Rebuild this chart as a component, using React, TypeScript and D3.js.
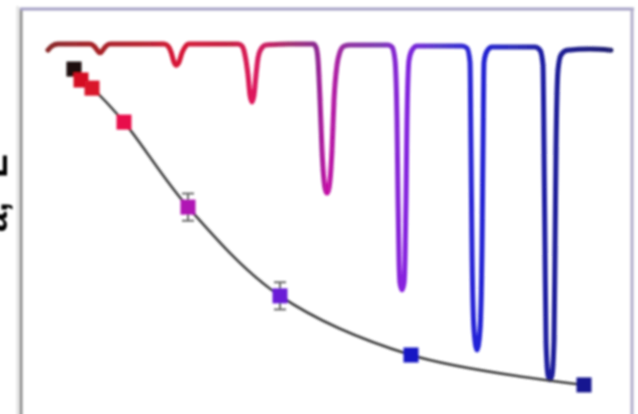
import React from "react";
import * as d3 from "d3";

const W = 638;
const H = 414;

// spectra, one dip each: [shift, transmission %]
const dip1 = [[-2, 98.2], [2, 99.4], [8, 100], [40, 100], [44, 99.4], [48, 97.9], [50, 97.4], [52, 97.9], [56, 99.4], [60, 100], [88, 100]];
const dip2 = [[114, 100], [118, 99.4], [121, 97.7], [124, 94.7], [126, 93.8], [129, 94.7], [132, 97.4], [135, 99.1], [139, 100], [164, 100]];
const dip3 = [[188, 100], [192, 99.4], [195, 96.8], [198, 90.9], [200, 85.0], [202, 83.0], [204, 85.0], [206, 90.9], [208, 95.9], [211, 98.5], [216, 99.7], [240, 100]];
const dip4 = [[263, 100], [266, 99.1], [268, 95.3], [270, 83.6], [272, 68.9], [275, 57.8], [277, 56.3], [279, 57.8], [282, 68.9], [284, 83.6], [287, 93.8], [290, 97.7], [294, 99.4], [300, 99.7], [315, 99.7]];
const dip5 = [[338, 99.7], [342, 99.1], [345, 95.3], [347, 77.7], [348, 54.3], [349, 36.7], [350, 29.9], [352, 27.9], [354, 29.9], [355, 36.7], [356, 54.3], [357, 77.7], [359, 95.3], [362, 98.2], [367, 99.4], [390, 99.4]];
const dip6 = [[412, 99.4], [417, 98.8], [420, 94.7], [421, 68.9], [422, 39.6], [424, 16.1], [427, 10.3], [430, 16.1], [432, 39.6], [433, 68.9], [434, 94.7], [437, 97.9], [442, 99.1], [463, 99.1]];
const dip7 = [[485, 99.1], [490, 98.2], [493, 93.8], [494, 68.9], [495, 39.6], [496, 13.2], [498, 2.9], [500, 1.5], [502, 2.9], [504, 13.2], [505, 39.6], [506, 68.9], [508, 92.4], [511, 96.8], [517, 98.2], [540, 98.5], [561, 98.2]];

// dip depth vs. step
const pointX = [24, 31, 42, 74, 138, 230, 361, 534];
const pointY = [0.988, 0.956, 0.932, 0.832, 0.582, 0.321, 0.147, 0.059];
const pointErr = [0, 0, 0, 0.008, 0.04, 0.04, 0.008, 0.006];

// cut-off axis label at the left edge
const labelParts = ["a,", "E"];

const pointColors = ["#1a0808", "#d40f22", "#d9122c", "#e8104c", "#b012b4", "#6a1fd6", "#1212c4", "#121290"];
const traceStops: [number, string][] = [
  [-2, "#8a2a2a"], [50, "#a82028"], [100, "#b82030"], [126, "#d81838"], [180, "#c02040"],
  [202, "#e0185c"], [240, "#a03070"], [266, "#8a2a90"], [277, "#c810a8"], [295, "#9030a0"],
  [330, "#7a38b0"], [352, "#8a20e0"], [390, "#5038c8"], [427, "#2222d8"], [465, "#2a2ab8"],
  [500, "#1a1a9c"], [561, "#202070"],
];

const x = d3.scaleLinear().domain([0, 560]).range([50, 610]);
const yT = d3.scaleLinear().domain([0, 100]).range([385, 44]);
const yN = d3.scaleLinear().domain([0, 1]).range([405, 65]);

export default function App() {
  const spectrum = [...dip1, ...dip2, ...dip3, ...dip4, ...dip5, ...dip6, ...dip7];
  const trace = d3
    .line<number[]>()
    .x((d) => x(d[0]))
    .y((d) => yT(d[1]))
    .curve(d3.curveMonotoneX)(spectrum);

  const pts = pointX.map((v, i) => ({ x: v, y: pointY[i], e: pointErr[i], c: pointColors[i] }));
  const fit = d3
    .line<{ x: number; y: number }>()
    .x((d) => x(d.x))
    .y((d) => yN(d.y))
    .curve(d3.curveCatmullRom.alpha(0.5))(pts);

  const x0 = x(traceStops[0][0]);
  const x1 = x(traceStops[traceStops.length - 1][0]);
  const s = 15;

  return (
    <svg width={W} height={H} style={{ position: "absolute", left: 0, top: 0, background: "#fff" }}>
      <defs>
        <linearGradient id="trace" gradientUnits="userSpaceOnUse" x1={x0} x2={x1} y1={0} y2={0}>
          {traceStops.map(([v, c], i) => (
            <stop key={i} offset={(x(v) - x0) / (x1 - x0)} stopColor={c} />
          ))}
        </linearGradient>
        <filter id="soft" x="-5%" y="-5%" width="110%" height="110%">
          <feGaussianBlur stdDeviation="0.95" />
        </filter>
      </defs>
      <g filter="url(#soft)">
        {/* frame */}
        <line x1={17.5} x2={17.5} y1={6} y2={H + 5} stroke="#dedede" strokeWidth={2} />
        <line x1={21} x2={21} y1={8} y2={H + 5} stroke="#8e8e8e" strokeWidth={3} />
        <line x1={20} x2={634} y1={9} y2={9} stroke="#a6a2c6" strokeWidth={3} />
        <line x1={632} x2={632} y1={8} y2={H + 5} stroke="#b2aecb" strokeWidth={3} />

        <g fontFamily="'Liberation Sans', Arial, sans-serif" fontWeight="bold" fontSize={36} fill="#000">
          <text transform="translate(7,232) rotate(-90)">{labelParts[0]}</text>
          <text transform="translate(7,178) rotate(-90)">{labelParts[1]}</text>
        </g>

        <path d={trace ?? ""} fill="none" stroke="url(#trace)" strokeWidth={5} strokeLinejoin="round" strokeLinecap="round" />

        <path d={fit ?? ""} fill="none" stroke="#3a3a3a" strokeWidth={2.5} />

        {pts.map((p, i) =>
          p.e > 0.02 ? (
            <g key={"e" + i} stroke="#6a6a6a" strokeWidth={2}>
              <line x1={x(p.x)} x2={x(p.x)} y1={yN(p.y + p.e)} y2={yN(p.y - p.e)} />
              <line x1={x(p.x) - 6} x2={x(p.x) + 6} y1={yN(p.y + p.e)} y2={yN(p.y + p.e)} />
              <line x1={x(p.x) - 6} x2={x(p.x) + 6} y1={yN(p.y - p.e)} y2={yN(p.y - p.e)} />
            </g>
          ) : null
        )}
        {pts.map((p, i) => (
          <rect key={i} x={x(p.x) - s / 2} y={yN(p.y) - s / 2} width={s} height={s} fill={p.c} />
        ))}
      </g>
    </svg>
  );
}
